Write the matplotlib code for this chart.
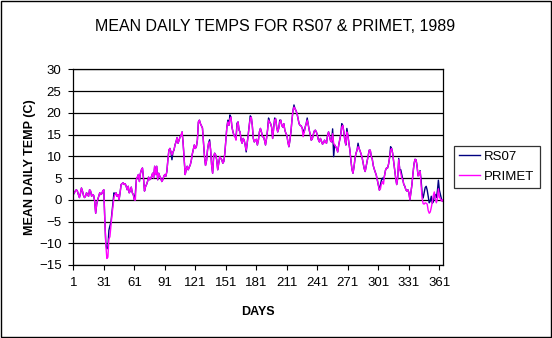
import matplotlib
matplotlib.use('Agg')
import matplotlib.pyplot as plt
from matplotlib.patches import Rectangle
import numpy as np

# daily mean air temperature (C), 1989, day-of-year 1..365
primet = [
    1.2, 1.6, 2.0, 2.3, 2.0, 1.2, 0.5, 1.4, 2.7, 2.0,
    1.0, 0.5, 0.8, 1.6, 1.2, 0.8, 2.3, 2.0, 0.8, 1.2,
    1.0, -0.3, -3.1, -1.0, 0.0, 0.8, 1.6, 1.2, 1.4, 2.0,
    2.3, -4.8, -10.5, -13.5, -13.2, -9.0, -8.5, -6.0, -3.5, -1.5,
    0.5, 1.2, 1.6, 0.8, 1.2, 0.0, 1.6, 3.5, 3.7, 3.9,
    3.5, 3.7, 3.1, 2.3, 3.1, 1.6, 2.0, 2.9, 1.6, 1.2,
    0.0, -0.1, 4.6, 5.2, 5.8, 4.2, 6.1, 6.9, 7.3, 5.0,
    2.0, 3.0, 3.5, 4.2, 5.2, 4.6, 4.8, 5.4, 6.1, 5.0,
    7.7, 5.8, 7.7, 4.6, 6.1, 5.4, 5.0, 4.2, 4.6, 5.4,
    5.8, 5.4, 6.5, 9.2, 11.4, 11.8, 11.0, 10.3, 11.0, 11.4,
    12.6, 13.3, 14.3, 13.0, 13.7, 14.5, 14.8, 15.6, 13.0, 9.5,
    5.8, 6.9, 7.7, 6.9, 7.5, 8.0, 9.0, 10.5, 11.5, 12.6,
    11.8, 12.2, 13.7, 17.9, 18.3, 17.5, 17.0, 16.5, 13.3, 9.9,
    7.9, 9.0, 11.5, 13.0, 13.3, 11.5, 8.0, 6.1, 9.9, 10.7,
    10.3, 9.2, 6.9, 8.4, 9.9, 9.5, 9.2, 8.4, 8.8, 10.7,
    13.7, 16.7, 17.9, 17.1, 18.6, 19.0, 16.7, 15.6, 14.8, 14.5,
    13.7, 17.1, 17.9, 16.0, 15.6, 13.7, 13.0, 14.1, 13.7, 12.6,
    11.4, 13.0, 14.8, 17.1, 18.6, 19.0, 17.1, 14.1, 13.3, 13.7,
    13.9, 12.6, 13.7, 15.6, 16.4, 15.6, 14.5, 14.5, 13.7, 12.6,
    14.1, 16.0, 18.3, 17.9, 17.5, 16.7, 14.1, 16.4, 18.3, 18.6,
    16.7, 15.6, 16.4, 17.9, 18.3, 17.1, 16.7, 17.5, 16.0, 15.3,
    14.8, 13.3, 12.2, 13.7, 15.6, 18.3, 20.5, 21.3, 20.9, 20.5,
    19.8, 18.6, 17.5, 17.1, 17.0, 16.5, 14.5, 15.5, 16.7, 17.5,
    18.3, 17.3, 16.0, 15.0, 13.7, 14.0, 15.0, 15.8, 16.0, 15.6,
    14.8, 13.8, 13.3, 14.1, 13.5, 12.8, 13.0, 13.7, 13.3, 13.0,
    14.8, 15.6, 14.5, 13.5, 13.3, 15.2, 13.0, 12.6, 12.2, 11.8,
    11.0, 12.6, 13.8, 15.0, 16.7, 17.1, 15.6, 13.7, 12.6, 15.6,
    14.8, 13.0, 11.4, 9.0, 7.0, 6.1, 7.5, 9.5, 10.7, 11.4,
    12.2, 11.8, 11.2, 10.5, 9.7, 8.5, 7.2, 6.5, 7.7, 8.8,
    10.0, 11.4, 11.4, 10.0, 9.3, 7.8, 7.0, 6.3, 5.6, 4.5,
    3.4, 2.2, 2.5, 3.7, 4.2, 3.6, 5.5, 6.8, 7.3, 7.3,
    8.2, 9.7, 11.4, 11.8, 10.7, 8.8, 6.9, 5.0, 3.5, 5.0,
    9.2, 6.9, 6.1, 5.0, 4.6, 3.5, 3.1, 2.3, 2.0, 2.3,
    1.6, 0.0, 1.8, 3.5, 6.0, 8.2, 9.3, 9.2, 7.8, 5.5,
    5.8, 6.5, 3.5, 0.3, -0.9, -1.0, -0.7, -0.8, -1.0, -2.5,
    -3.1, -2.8, -1.8, -0.5, 1.0, 1.8, 0.2, -0.7, 0.2, 2.5,
    0.5, 0.3, -0.3, 0.0, -0.5,
]

rs07 = [
    1.2, 1.6, 2.0, 2.3, 2.0, 1.2, 0.5, 1.4, 2.7, 2.0,
    1.0, 0.5, 0.8, 1.6, 1.2, 0.8, 2.3, 2.0, 0.8, 1.2,
    1.0, -0.3, -3.1, -1.0, 0.0, 0.8, 1.6, 1.2, 1.4, 2.0,
    2.3, -4.8, -10.2, -11.3, -11.0, -7.0, -6.0, -5.2, -3.0, -0.7,
    1.6, 1.2, 1.6, 0.8, 1.2, 0.0, 1.6, 3.5, 3.7, 3.9,
    3.5, 3.7, 3.1, 2.3, 3.1, 1.6, 2.0, 2.9, 1.6, 1.2,
    0.0, 1.5, 4.6, 5.2, 5.8, 4.2, 6.1, 6.9, 7.3, 5.0,
    2.0, 3.0, 3.5, 4.2, 5.2, 4.6, 4.8, 5.4, 6.1, 5.0,
    7.7, 5.8, 7.7, 4.6, 6.1, 5.4, 5.0, 4.2, 4.6, 5.4,
    5.8, 5.4, 6.5, 9.2, 11.4, 11.8, 11.0, 9.2, 11.0, 11.4,
    12.6, 13.3, 14.3, 13.0, 13.7, 14.5, 14.8, 15.6, 13.0, 9.5,
    5.8, 6.9, 7.7, 6.9, 7.5, 8.0, 9.0, 10.5, 11.5, 12.6,
    11.8, 12.2, 13.7, 17.9, 18.3, 17.5, 17.0, 16.5, 13.3, 9.9,
    7.9, 9.0, 11.5, 13.0, 13.8, 11.5, 8.0, 6.1, 9.9, 10.7,
    10.3, 9.2, 6.9, 8.4, 9.9, 9.5, 9.2, 8.4, 8.8, 10.7,
    13.7, 16.7, 18.3, 17.1, 19.5, 19.0, 16.7, 15.6, 14.8, 14.5,
    14.3, 17.6, 17.9, 16.0, 15.6, 13.7, 13.0, 14.1, 13.7, 12.6,
    11.0, 13.0, 14.8, 17.1, 19.3, 19.0, 17.1, 14.1, 13.3, 13.7,
    13.9, 12.6, 13.7, 15.6, 16.4, 15.6, 14.5, 14.5, 13.7, 12.6,
    14.1, 16.0, 18.8, 17.9, 17.5, 16.7, 14.1, 16.4, 18.8, 18.6,
    16.7, 15.6, 16.4, 18.3, 18.3, 17.1, 16.7, 17.5, 16.0, 15.3,
    14.8, 13.3, 12.2, 13.7, 15.6, 18.3, 20.5, 21.8, 20.9, 20.5,
    19.8, 18.6, 17.5, 17.1, 17.0, 16.5, 16.0, 15.5, 16.7, 17.5,
    18.8, 17.3, 16.0, 15.0, 13.7, 14.0, 15.0, 15.8, 16.0, 15.6,
    14.8, 13.8, 13.3, 14.1, 13.5, 12.8, 13.0, 13.7, 13.3, 13.0,
    14.8, 15.6, 14.5, 13.5, 13.3, 16.3, 9.9, 12.6, 12.2, 11.8,
    11.0, 12.6, 13.8, 15.0, 17.5, 17.1, 15.6, 13.7, 12.6, 16.4,
    14.8, 13.0, 11.4, 9.0, 7.0, 6.1, 7.5, 9.5, 10.7, 11.4,
    13.0, 11.8, 11.2, 10.5, 9.7, 8.5, 7.2, 6.5, 7.7, 8.8,
    10.0, 11.4, 11.4, 10.0, 9.3, 7.8, 7.0, 6.3, 5.6, 4.5,
    3.4, 2.2, 3.5, 4.5, 5.0, 4.6, 5.5, 6.8, 7.3, 7.3,
    8.2, 9.7, 12.2, 11.8, 10.7, 8.8, 6.9, 5.0, 3.5, 5.0,
    9.5, 6.9, 6.9, 5.8, 4.6, 3.5, 3.1, 2.3, 2.0, 2.3,
    1.6, 0.0, 1.8, 3.5, 6.0, 8.2, 9.3, 9.2, 7.8, 5.5,
    5.8, 6.7, 4.5, 1.5, 0.4, 1.6, 2.8, 3.1, 2.2, 0.8,
    -0.7, -0.3, 0.8, -0.8, -0.5, 1.0, 1.2, 0.5, 2.0, 4.5,
    2.2, 1.2, 0.2, -0.3, -0.2,
]

days = np.arange(1, len(primet) + 1)
day_ticks = list(range(1, 362, 30))
temp_ticks = list(range(-15, 31, 5))

plt.rcParams['font.family'] = ['Liberation Sans', 'DejaVu Sans']

fig = plt.figure(figsize=(5.52, 3.38), dpi=100)
ax = fig.add_axes([0.1328, 0.216, 0.6706, 0.579])

ax.plot(days, rs07, color='#000080', lw=1.0, label='RS07')
ax.plot(days, primet, color='#FF00FF', lw=1.0, label='PRIMET')

ax.set_xlim(1, 365)
ax.set_ylim(-15, 30)
ax.set_xticks(day_ticks)
ax.set_yticks(temp_ticks)
ax.tick_params(direction='out', length=3.5, width=0.8, labelsize=9.5, pad=5)
ax.grid(axis='y', color='black', lw=0.9)
ax.set_axisbelow(True)
for sp in ax.spines.values():
    sp.set_linewidth(0.9)

ax.set_xlabel('DAYS', fontsize=9, fontweight='bold', va='center')
ax.xaxis.set_label_coords(0.5, -0.24)
ax.set_ylabel('MEAN DAILY TEMP (C)', fontsize=9, fontweight='bold', va='center')
ax.yaxis.set_label_coords(-0.117, 0.5)

fig.text(0.499, 1 - 26.5 / 338, 'MEAN DAILY TEMPS FOR RS07 & PRIMET, 1989',
         fontsize=11.5, ha='center', va='center')

leg = ax.legend(loc='center left', bbox_to_anchor=(454 / 552, 1 - 166.7 / 338),
                bbox_transform=fig.transFigure, fontsize=9.5, frameon=True,
                fancybox=False, handlelength=1.6, handletextpad=0.3,
                borderpad=0.4, labelspacing=0.55, borderaxespad=0)
leg.get_frame().set_edgecolor('black')
leg.get_frame().set_linewidth(0.9)

# thin frame around the whole chart
fig.patches.append(Rectangle((0.001, 0.0015), 0.997, 0.996, transform=fig.transFigure,
                             fill=False, edgecolor='black', lw=1.0))

fig.savefig('out.png', dpi=100)
